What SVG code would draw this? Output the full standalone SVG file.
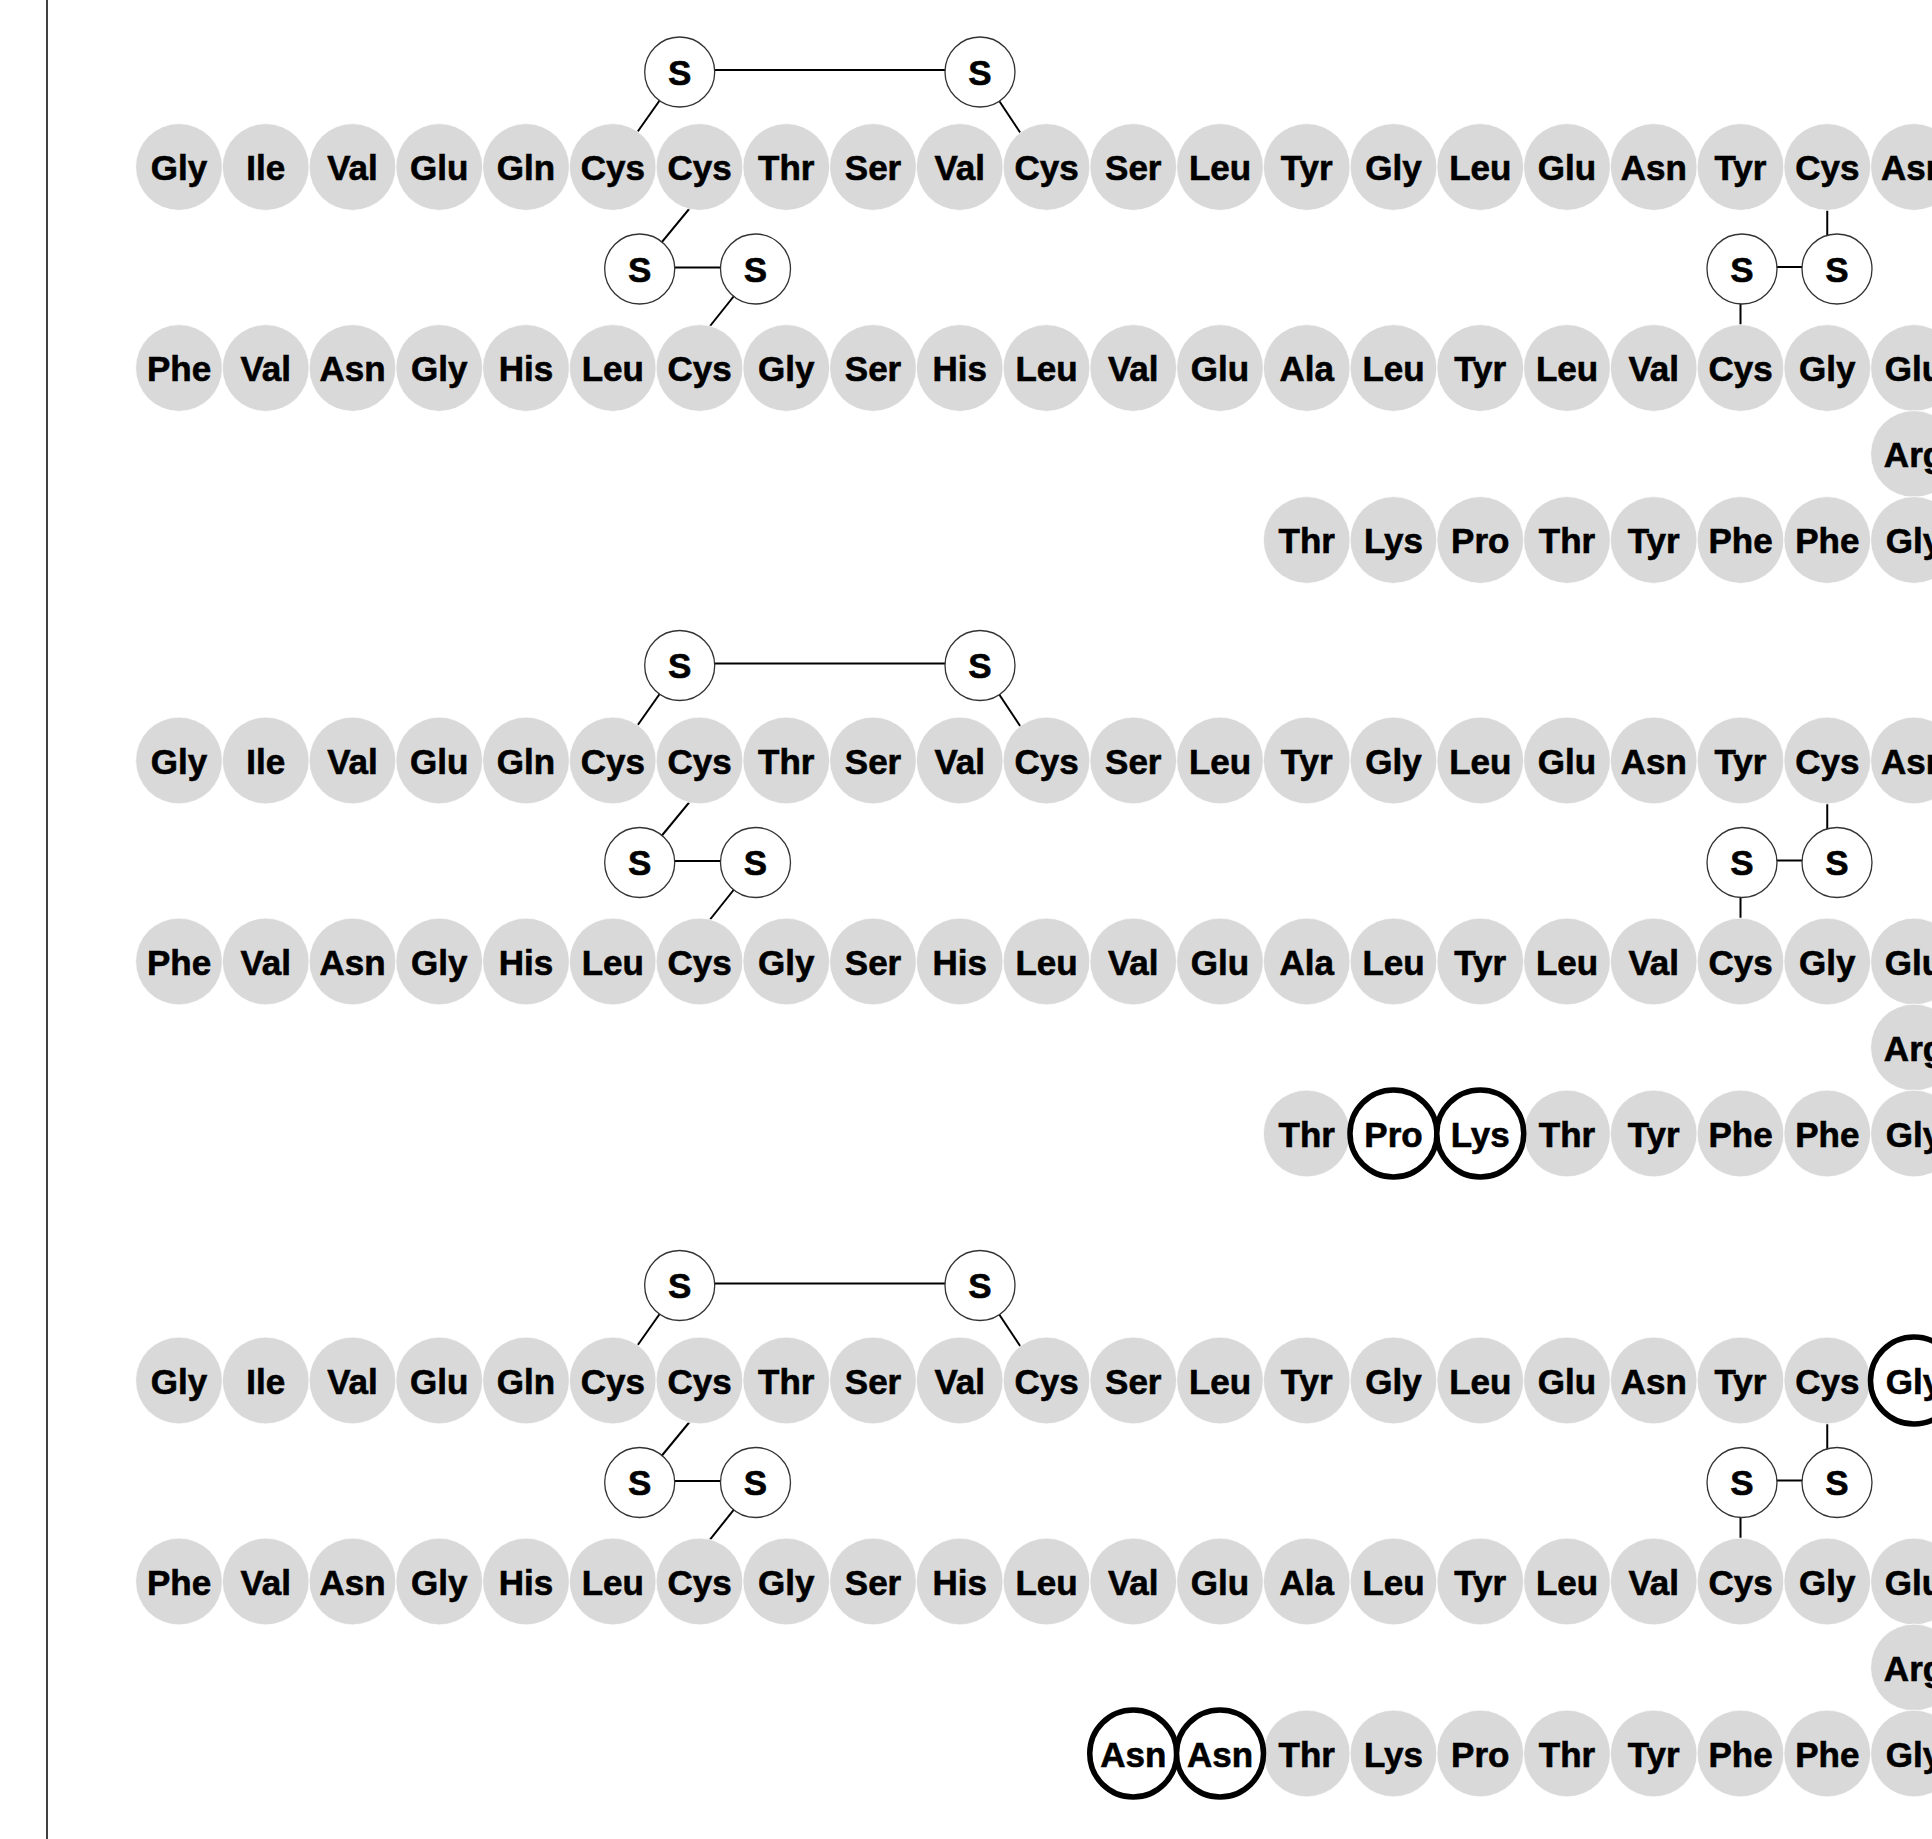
<svg xmlns="http://www.w3.org/2000/svg" width="1932" height="1839" viewBox="0 0 1932 1839">
<style>
text{font-family:"Liberation Sans",Arial,Helvetica,sans-serif;font-weight:bold;text-anchor:middle;fill:#000;stroke:#000;stroke-width:0.6px;font-size:35px}
.aa circle{fill:#d9d9d9;stroke:#fff;stroke-width:0.8}
.hl circle{fill:#fff;stroke:#000;stroke-width:5.5}
.s circle{fill:#fff;stroke:#333;stroke-width:1.3}
</style>
<defs>
<g id="bonds">
<line x1="612.75" y1="167" x2="679.7" y2="72"/>
<line x1="980" y1="72" x2="1043" y2="167"/>
<line x1="679.7" y1="70" x2="980" y2="70"/>
<line x1="723.7" y1="167" x2="639.7" y2="269"/>
<line x1="639.7" y1="267.5" x2="755.5" y2="267.5"/>
<line x1="755.5" y1="269" x2="676.6" y2="368"/>
<line x1="1742" y1="267" x2="1837" y2="267"/>
<line x1="1827.25" y1="167" x2="1827.25" y2="269"/>
<line x1="1740.5" y1="269" x2="1740.5" y2="368"/>
</g>
</defs>
<line x1="47" y1="0" x2="47" y2="1839" stroke="#111" stroke-width="1.6"/>
<g id="connectors" stroke="#000" stroke-width="2" fill="none">
<use href="#bonds"/>
<use href="#bonds" transform="translate(0,593.5)"/>
<use href="#bonds" transform="translate(0,1213.5)"/>
</g>
<g id="section1">
<g id="a1-r1-0" class="aa" transform="translate(179,167)"><circle r="43.4"/><text y="13">Gly</text></g>
<g id="a1-r1-1" class="aa" transform="translate(265.75,167)"><circle r="43.4"/><text y="13">Ile</text></g>
<g id="a1-r1-2" class="aa" transform="translate(352.5,167)"><circle r="43.4"/><text y="13">Val</text></g>
<g id="a1-r1-3" class="aa" transform="translate(439.25,167)"><circle r="43.4"/><text y="13">Glu</text></g>
<g id="a1-r1-4" class="aa" transform="translate(526,167)"><circle r="43.4"/><text y="13">Gln</text></g>
<g id="a1-r1-5" class="aa" transform="translate(612.75,167)"><circle r="43.4"/><text y="13">Cys</text></g>
<g id="a1-r1-6" class="aa" transform="translate(699.5,167)"><circle r="43.4"/><text y="13">Cys</text></g>
<g id="a1-r1-7" class="aa" transform="translate(786.25,167)"><circle r="43.4"/><text y="13">Thr</text></g>
<g id="a1-r1-8" class="aa" transform="translate(873,167)"><circle r="43.4"/><text y="13">Ser</text></g>
<g id="a1-r1-9" class="aa" transform="translate(959.75,167)"><circle r="43.4"/><text y="13">Val</text></g>
<g id="a1-r1-10" class="aa" transform="translate(1046.5,167)"><circle r="43.4"/><text y="13">Cys</text></g>
<g id="a1-r1-11" class="aa" transform="translate(1133.25,167)"><circle r="43.4"/><text y="13">Ser</text></g>
<g id="a1-r1-12" class="aa" transform="translate(1220,167)"><circle r="43.4"/><text y="13">Leu</text></g>
<g id="a1-r1-13" class="aa" transform="translate(1306.75,167)"><circle r="43.4"/><text y="13">Tyr</text></g>
<g id="a1-r1-14" class="aa" transform="translate(1393.5,167)"><circle r="43.4"/><text y="13">Gly</text></g>
<g id="a1-r1-15" class="aa" transform="translate(1480.25,167)"><circle r="43.4"/><text y="13">Leu</text></g>
<g id="a1-r1-16" class="aa" transform="translate(1567,167)"><circle r="43.4"/><text y="13">Glu</text></g>
<g id="a1-r1-17" class="aa" transform="translate(1653.75,167)"><circle r="43.4"/><text y="13">Asn</text></g>
<g id="a1-r1-18" class="aa" transform="translate(1740.5,167)"><circle r="43.4"/><text y="13">Tyr</text></g>
<g id="a1-r1-19" class="aa" transform="translate(1827.25,167)"><circle r="43.4"/><text y="13">Cys</text></g>
<g id="a1-r1-20" class="aa" transform="translate(1914,167)"><circle r="43.4"/><text y="13">Asn</text></g>
<g id="a1-r2-0" class="aa" transform="translate(179,368)"><circle r="43.4"/><text y="13">Phe</text></g>
<g id="a1-r2-1" class="aa" transform="translate(265.75,368)"><circle r="43.4"/><text y="13">Val</text></g>
<g id="a1-r2-2" class="aa" transform="translate(352.5,368)"><circle r="43.4"/><text y="13">Asn</text></g>
<g id="a1-r2-3" class="aa" transform="translate(439.25,368)"><circle r="43.4"/><text y="13">Gly</text></g>
<g id="a1-r2-4" class="aa" transform="translate(526,368)"><circle r="43.4"/><text y="13">His</text></g>
<g id="a1-r2-5" class="aa" transform="translate(612.75,368)"><circle r="43.4"/><text y="13">Leu</text></g>
<g id="a1-r2-6" class="aa" transform="translate(699.5,368)"><circle r="43.4"/><text y="13">Cys</text></g>
<g id="a1-r2-7" class="aa" transform="translate(786.25,368)"><circle r="43.4"/><text y="13">Gly</text></g>
<g id="a1-r2-8" class="aa" transform="translate(873,368)"><circle r="43.4"/><text y="13">Ser</text></g>
<g id="a1-r2-9" class="aa" transform="translate(959.75,368)"><circle r="43.4"/><text y="13">His</text></g>
<g id="a1-r2-10" class="aa" transform="translate(1046.5,368)"><circle r="43.4"/><text y="13">Leu</text></g>
<g id="a1-r2-11" class="aa" transform="translate(1133.25,368)"><circle r="43.4"/><text y="13">Val</text></g>
<g id="a1-r2-12" class="aa" transform="translate(1220,368)"><circle r="43.4"/><text y="13">Glu</text></g>
<g id="a1-r2-13" class="aa" transform="translate(1306.75,368)"><circle r="43.4"/><text y="13">Ala</text></g>
<g id="a1-r2-14" class="aa" transform="translate(1393.5,368)"><circle r="43.4"/><text y="13">Leu</text></g>
<g id="a1-r2-15" class="aa" transform="translate(1480.25,368)"><circle r="43.4"/><text y="13">Tyr</text></g>
<g id="a1-r2-16" class="aa" transform="translate(1567,368)"><circle r="43.4"/><text y="13">Leu</text></g>
<g id="a1-r2-17" class="aa" transform="translate(1653.75,368)"><circle r="43.4"/><text y="13">Val</text></g>
<g id="a1-r2-18" class="aa" transform="translate(1740.5,368)"><circle r="43.4"/><text y="13">Cys</text></g>
<g id="a1-r2-19" class="aa" transform="translate(1827.25,368)"><circle r="43.4"/><text y="13">Gly</text></g>
<g id="a1-r2-20" class="aa" transform="translate(1914,368)"><circle r="43.4"/><text y="13">Glu</text></g>
<g id="a1-arg" class="aa" transform="translate(1914,454)"><circle r="43.4"/><text y="13">Arg</text></g>
<g id="a1-r3-13" class="aa" transform="translate(1306.75,540)"><circle r="43.4"/><text y="13">Thr</text></g>
<g id="a1-r3-14" class="aa" transform="translate(1393.5,540)"><circle r="43.4"/><text y="13">Lys</text></g>
<g id="a1-r3-15" class="aa" transform="translate(1480.25,540)"><circle r="43.4"/><text y="13">Pro</text></g>
<g id="a1-r3-16" class="aa" transform="translate(1567,540)"><circle r="43.4"/><text y="13">Thr</text></g>
<g id="a1-r3-17" class="aa" transform="translate(1653.75,540)"><circle r="43.4"/><text y="13">Tyr</text></g>
<g id="a1-r3-18" class="aa" transform="translate(1740.5,540)"><circle r="43.4"/><text y="13">Phe</text></g>
<g id="a1-r3-19" class="aa" transform="translate(1827.25,540)"><circle r="43.4"/><text y="13">Phe</text></g>
<g id="a1-r3-20" class="aa" transform="translate(1914,540)"><circle r="43.4"/><text y="13">Gly</text></g>
<g id="s1-a" class="s" transform="translate(679.7,72)"><circle r="35"/><text y="12.5">S</text></g>
<g id="s1-b" class="s" transform="translate(980,72)"><circle r="35"/><text y="12.5">S</text></g>
<g id="s1-c" class="s" transform="translate(639.7,269)"><circle r="35"/><text y="12.5">S</text></g>
<g id="s1-d" class="s" transform="translate(755.5,269)"><circle r="35"/><text y="12.5">S</text></g>
<g id="s1-e" class="s" transform="translate(1742,269)"><circle r="35"/><text y="12.5">S</text></g>
<g id="s1-f" class="s" transform="translate(1837,269)"><circle r="35"/><text y="12.5">S</text></g>
</g>
<g id="section2" transform="translate(0,593.5)">
<g id="a2-r1-0" class="aa" transform="translate(179,167)"><circle r="43.4"/><text y="13">Gly</text></g>
<g id="a2-r1-1" class="aa" transform="translate(265.75,167)"><circle r="43.4"/><text y="13">Ile</text></g>
<g id="a2-r1-2" class="aa" transform="translate(352.5,167)"><circle r="43.4"/><text y="13">Val</text></g>
<g id="a2-r1-3" class="aa" transform="translate(439.25,167)"><circle r="43.4"/><text y="13">Glu</text></g>
<g id="a2-r1-4" class="aa" transform="translate(526,167)"><circle r="43.4"/><text y="13">Gln</text></g>
<g id="a2-r1-5" class="aa" transform="translate(612.75,167)"><circle r="43.4"/><text y="13">Cys</text></g>
<g id="a2-r1-6" class="aa" transform="translate(699.5,167)"><circle r="43.4"/><text y="13">Cys</text></g>
<g id="a2-r1-7" class="aa" transform="translate(786.25,167)"><circle r="43.4"/><text y="13">Thr</text></g>
<g id="a2-r1-8" class="aa" transform="translate(873,167)"><circle r="43.4"/><text y="13">Ser</text></g>
<g id="a2-r1-9" class="aa" transform="translate(959.75,167)"><circle r="43.4"/><text y="13">Val</text></g>
<g id="a2-r1-10" class="aa" transform="translate(1046.5,167)"><circle r="43.4"/><text y="13">Cys</text></g>
<g id="a2-r1-11" class="aa" transform="translate(1133.25,167)"><circle r="43.4"/><text y="13">Ser</text></g>
<g id="a2-r1-12" class="aa" transform="translate(1220,167)"><circle r="43.4"/><text y="13">Leu</text></g>
<g id="a2-r1-13" class="aa" transform="translate(1306.75,167)"><circle r="43.4"/><text y="13">Tyr</text></g>
<g id="a2-r1-14" class="aa" transform="translate(1393.5,167)"><circle r="43.4"/><text y="13">Gly</text></g>
<g id="a2-r1-15" class="aa" transform="translate(1480.25,167)"><circle r="43.4"/><text y="13">Leu</text></g>
<g id="a2-r1-16" class="aa" transform="translate(1567,167)"><circle r="43.4"/><text y="13">Glu</text></g>
<g id="a2-r1-17" class="aa" transform="translate(1653.75,167)"><circle r="43.4"/><text y="13">Asn</text></g>
<g id="a2-r1-18" class="aa" transform="translate(1740.5,167)"><circle r="43.4"/><text y="13">Tyr</text></g>
<g id="a2-r1-19" class="aa" transform="translate(1827.25,167)"><circle r="43.4"/><text y="13">Cys</text></g>
<g id="a2-r1-20" class="aa" transform="translate(1914,167)"><circle r="43.4"/><text y="13">Asn</text></g>
<g id="a2-r2-0" class="aa" transform="translate(179,368)"><circle r="43.4"/><text y="13">Phe</text></g>
<g id="a2-r2-1" class="aa" transform="translate(265.75,368)"><circle r="43.4"/><text y="13">Val</text></g>
<g id="a2-r2-2" class="aa" transform="translate(352.5,368)"><circle r="43.4"/><text y="13">Asn</text></g>
<g id="a2-r2-3" class="aa" transform="translate(439.25,368)"><circle r="43.4"/><text y="13">Gly</text></g>
<g id="a2-r2-4" class="aa" transform="translate(526,368)"><circle r="43.4"/><text y="13">His</text></g>
<g id="a2-r2-5" class="aa" transform="translate(612.75,368)"><circle r="43.4"/><text y="13">Leu</text></g>
<g id="a2-r2-6" class="aa" transform="translate(699.5,368)"><circle r="43.4"/><text y="13">Cys</text></g>
<g id="a2-r2-7" class="aa" transform="translate(786.25,368)"><circle r="43.4"/><text y="13">Gly</text></g>
<g id="a2-r2-8" class="aa" transform="translate(873,368)"><circle r="43.4"/><text y="13">Ser</text></g>
<g id="a2-r2-9" class="aa" transform="translate(959.75,368)"><circle r="43.4"/><text y="13">His</text></g>
<g id="a2-r2-10" class="aa" transform="translate(1046.5,368)"><circle r="43.4"/><text y="13">Leu</text></g>
<g id="a2-r2-11" class="aa" transform="translate(1133.25,368)"><circle r="43.4"/><text y="13">Val</text></g>
<g id="a2-r2-12" class="aa" transform="translate(1220,368)"><circle r="43.4"/><text y="13">Glu</text></g>
<g id="a2-r2-13" class="aa" transform="translate(1306.75,368)"><circle r="43.4"/><text y="13">Ala</text></g>
<g id="a2-r2-14" class="aa" transform="translate(1393.5,368)"><circle r="43.4"/><text y="13">Leu</text></g>
<g id="a2-r2-15" class="aa" transform="translate(1480.25,368)"><circle r="43.4"/><text y="13">Tyr</text></g>
<g id="a2-r2-16" class="aa" transform="translate(1567,368)"><circle r="43.4"/><text y="13">Leu</text></g>
<g id="a2-r2-17" class="aa" transform="translate(1653.75,368)"><circle r="43.4"/><text y="13">Val</text></g>
<g id="a2-r2-18" class="aa" transform="translate(1740.5,368)"><circle r="43.4"/><text y="13">Cys</text></g>
<g id="a2-r2-19" class="aa" transform="translate(1827.25,368)"><circle r="43.4"/><text y="13">Gly</text></g>
<g id="a2-r2-20" class="aa" transform="translate(1914,368)"><circle r="43.4"/><text y="13">Glu</text></g>
<g id="a2-arg" class="aa" transform="translate(1914,454)"><circle r="43.4"/><text y="13">Arg</text></g>
<g id="a2-r3-13" class="aa" transform="translate(1306.75,540)"><circle r="43.4"/><text y="13">Thr</text></g>
<g id="a2-r3-16" class="aa" transform="translate(1567,540)"><circle r="43.4"/><text y="13">Thr</text></g>
<g id="a2-r3-17" class="aa" transform="translate(1653.75,540)"><circle r="43.4"/><text y="13">Tyr</text></g>
<g id="a2-r3-18" class="aa" transform="translate(1740.5,540)"><circle r="43.4"/><text y="13">Phe</text></g>
<g id="a2-r3-19" class="aa" transform="translate(1827.25,540)"><circle r="43.4"/><text y="13">Phe</text></g>
<g id="a2-r3-20" class="aa" transform="translate(1914,540)"><circle r="43.4"/><text y="13">Gly</text></g>
<g id="a2-r3-14" class="hl" transform="translate(1393.5,540)"><circle r="43.5"/><text y="13">Pro</text></g>
<g id="a2-r3-15" class="hl" transform="translate(1480.25,540)"><circle r="43.5"/><text y="13">Lys</text></g>
<g id="s2-a" class="s" transform="translate(679.7,72)"><circle r="35"/><text y="12.5">S</text></g>
<g id="s2-b" class="s" transform="translate(980,72)"><circle r="35"/><text y="12.5">S</text></g>
<g id="s2-c" class="s" transform="translate(639.7,269)"><circle r="35"/><text y="12.5">S</text></g>
<g id="s2-d" class="s" transform="translate(755.5,269)"><circle r="35"/><text y="12.5">S</text></g>
<g id="s2-e" class="s" transform="translate(1742,269)"><circle r="35"/><text y="12.5">S</text></g>
<g id="s2-f" class="s" transform="translate(1837,269)"><circle r="35"/><text y="12.5">S</text></g>
</g>
<g id="section3" transform="translate(0,1213.5)">
<g id="a3-r1-0" class="aa" transform="translate(179,167)"><circle r="43.4"/><text y="13">Gly</text></g>
<g id="a3-r1-1" class="aa" transform="translate(265.75,167)"><circle r="43.4"/><text y="13">Ile</text></g>
<g id="a3-r1-2" class="aa" transform="translate(352.5,167)"><circle r="43.4"/><text y="13">Val</text></g>
<g id="a3-r1-3" class="aa" transform="translate(439.25,167)"><circle r="43.4"/><text y="13">Glu</text></g>
<g id="a3-r1-4" class="aa" transform="translate(526,167)"><circle r="43.4"/><text y="13">Gln</text></g>
<g id="a3-r1-5" class="aa" transform="translate(612.75,167)"><circle r="43.4"/><text y="13">Cys</text></g>
<g id="a3-r1-6" class="aa" transform="translate(699.5,167)"><circle r="43.4"/><text y="13">Cys</text></g>
<g id="a3-r1-7" class="aa" transform="translate(786.25,167)"><circle r="43.4"/><text y="13">Thr</text></g>
<g id="a3-r1-8" class="aa" transform="translate(873,167)"><circle r="43.4"/><text y="13">Ser</text></g>
<g id="a3-r1-9" class="aa" transform="translate(959.75,167)"><circle r="43.4"/><text y="13">Val</text></g>
<g id="a3-r1-10" class="aa" transform="translate(1046.5,167)"><circle r="43.4"/><text y="13">Cys</text></g>
<g id="a3-r1-11" class="aa" transform="translate(1133.25,167)"><circle r="43.4"/><text y="13">Ser</text></g>
<g id="a3-r1-12" class="aa" transform="translate(1220,167)"><circle r="43.4"/><text y="13">Leu</text></g>
<g id="a3-r1-13" class="aa" transform="translate(1306.75,167)"><circle r="43.4"/><text y="13">Tyr</text></g>
<g id="a3-r1-14" class="aa" transform="translate(1393.5,167)"><circle r="43.4"/><text y="13">Gly</text></g>
<g id="a3-r1-15" class="aa" transform="translate(1480.25,167)"><circle r="43.4"/><text y="13">Leu</text></g>
<g id="a3-r1-16" class="aa" transform="translate(1567,167)"><circle r="43.4"/><text y="13">Glu</text></g>
<g id="a3-r1-17" class="aa" transform="translate(1653.75,167)"><circle r="43.4"/><text y="13">Asn</text></g>
<g id="a3-r1-18" class="aa" transform="translate(1740.5,167)"><circle r="43.4"/><text y="13">Tyr</text></g>
<g id="a3-r1-19" class="aa" transform="translate(1827.25,167)"><circle r="43.4"/><text y="13">Cys</text></g>
<g id="a3-r1-20" class="hl" transform="translate(1914,167)"><circle r="43.5"/><text y="13">Gly</text></g>
<g id="a3-r2-0" class="aa" transform="translate(179,368)"><circle r="43.4"/><text y="13">Phe</text></g>
<g id="a3-r2-1" class="aa" transform="translate(265.75,368)"><circle r="43.4"/><text y="13">Val</text></g>
<g id="a3-r2-2" class="aa" transform="translate(352.5,368)"><circle r="43.4"/><text y="13">Asn</text></g>
<g id="a3-r2-3" class="aa" transform="translate(439.25,368)"><circle r="43.4"/><text y="13">Gly</text></g>
<g id="a3-r2-4" class="aa" transform="translate(526,368)"><circle r="43.4"/><text y="13">His</text></g>
<g id="a3-r2-5" class="aa" transform="translate(612.75,368)"><circle r="43.4"/><text y="13">Leu</text></g>
<g id="a3-r2-6" class="aa" transform="translate(699.5,368)"><circle r="43.4"/><text y="13">Cys</text></g>
<g id="a3-r2-7" class="aa" transform="translate(786.25,368)"><circle r="43.4"/><text y="13">Gly</text></g>
<g id="a3-r2-8" class="aa" transform="translate(873,368)"><circle r="43.4"/><text y="13">Ser</text></g>
<g id="a3-r2-9" class="aa" transform="translate(959.75,368)"><circle r="43.4"/><text y="13">His</text></g>
<g id="a3-r2-10" class="aa" transform="translate(1046.5,368)"><circle r="43.4"/><text y="13">Leu</text></g>
<g id="a3-r2-11" class="aa" transform="translate(1133.25,368)"><circle r="43.4"/><text y="13">Val</text></g>
<g id="a3-r2-12" class="aa" transform="translate(1220,368)"><circle r="43.4"/><text y="13">Glu</text></g>
<g id="a3-r2-13" class="aa" transform="translate(1306.75,368)"><circle r="43.4"/><text y="13">Ala</text></g>
<g id="a3-r2-14" class="aa" transform="translate(1393.5,368)"><circle r="43.4"/><text y="13">Leu</text></g>
<g id="a3-r2-15" class="aa" transform="translate(1480.25,368)"><circle r="43.4"/><text y="13">Tyr</text></g>
<g id="a3-r2-16" class="aa" transform="translate(1567,368)"><circle r="43.4"/><text y="13">Leu</text></g>
<g id="a3-r2-17" class="aa" transform="translate(1653.75,368)"><circle r="43.4"/><text y="13">Val</text></g>
<g id="a3-r2-18" class="aa" transform="translate(1740.5,368)"><circle r="43.4"/><text y="13">Cys</text></g>
<g id="a3-r2-19" class="aa" transform="translate(1827.25,368)"><circle r="43.4"/><text y="13">Gly</text></g>
<g id="a3-r2-20" class="aa" transform="translate(1914,368)"><circle r="43.4"/><text y="13">Glu</text></g>
<g id="a3-arg" class="aa" transform="translate(1914,454)"><circle r="43.4"/><text y="13">Arg</text></g>
<g id="a3-r3-13" class="aa" transform="translate(1306.75,540)"><circle r="43.4"/><text y="13">Thr</text></g>
<g id="a3-r3-14" class="aa" transform="translate(1393.5,540)"><circle r="43.4"/><text y="13">Lys</text></g>
<g id="a3-r3-15" class="aa" transform="translate(1480.25,540)"><circle r="43.4"/><text y="13">Pro</text></g>
<g id="a3-r3-16" class="aa" transform="translate(1567,540)"><circle r="43.4"/><text y="13">Thr</text></g>
<g id="a3-r3-17" class="aa" transform="translate(1653.75,540)"><circle r="43.4"/><text y="13">Tyr</text></g>
<g id="a3-r3-18" class="aa" transform="translate(1740.5,540)"><circle r="43.4"/><text y="13">Phe</text></g>
<g id="a3-r3-19" class="aa" transform="translate(1827.25,540)"><circle r="43.4"/><text y="13">Phe</text></g>
<g id="a3-r3-20" class="aa" transform="translate(1914,540)"><circle r="43.4"/><text y="13">Gly</text></g>
<g id="a3-r3-11" class="hl" transform="translate(1133.25,540)"><circle r="43.5"/><text y="13">Asn</text></g>
<g id="a3-r3-12" class="hl" transform="translate(1220,540)"><circle r="43.5"/><text y="13">Asn</text></g>
<g id="s3-a" class="s" transform="translate(679.7,72)"><circle r="35"/><text y="12.5">S</text></g>
<g id="s3-b" class="s" transform="translate(980,72)"><circle r="35"/><text y="12.5">S</text></g>
<g id="s3-c" class="s" transform="translate(639.7,269)"><circle r="35"/><text y="12.5">S</text></g>
<g id="s3-d" class="s" transform="translate(755.5,269)"><circle r="35"/><text y="12.5">S</text></g>
<g id="s3-e" class="s" transform="translate(1742,269)"><circle r="35"/><text y="12.5">S</text></g>
<g id="s3-f" class="s" transform="translate(1837,269)"><circle r="35"/><text y="12.5">S</text></g>
</g>
</svg>
